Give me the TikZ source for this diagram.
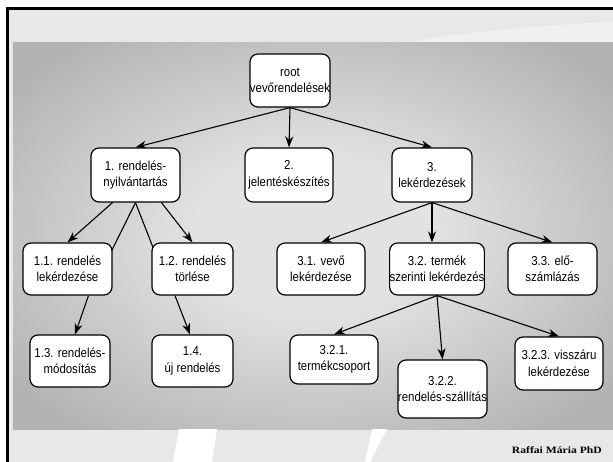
\documentclass[tikz,border=0pt]{standalone}
\usepackage{fontspec}
\setmainfont{Liberation Sans}[FakeStretch=0.88]
\newfontfamily\footfont{Liberation Serif}[FakeStretch=1.2]
\usetikzlibrary{arrows.meta}
\definecolor{bandgray}{RGB}{232,232,232}
\definecolor{paneldark}{RGB}{178,178,178}
\definecolor{panellight}{RGB}{226,226,226}
\pgfdeclarelayer{back}
\pgfdeclarelayer{edges}
\pgfsetlayers{back,edges,main}
\pgfdeclareradialshading{panelshade}{\pgfpointorigin}{color(0bp)=(panellight); color(10bp)=(panellight); color(32bp)=(paneldark); color(50bp)=(paneldark)}
\begin{document}
\begin{tikzpicture}[x=1pt,y=-1pt,
  box/.style 2 args={draw, fill=white, rounded corners=8pt, line width=1.2pt, align=center,
    inner sep=0pt, minimum width=#1pt, minimum height=#2pt, font=\fontsize{13}{16.5}\selectfont},
  conn/.style={line width=1.1pt, -{Stealth[length=11pt,width=8pt,inset=3.5pt]}},
  plainline/.style={line width=1.1pt},
  footer/.style={font=\footfont\bfseries\fontsize{9.7}{12}\selectfont, inner sep=0pt}]
\useasboundingbox (0,0) rectangle (613,462);

\begin{pgfonlayer}{back}
  \fill[white] (0,0) rectangle (613,462);
  \fill[bandgray] (7.3,8.7) rectangle (613,462);
  \fill[white, opacity=0.35] (400,43) .. controls (480,30) and (560,24) .. (613,22) -- (613,43) -- cycle;
  \shade[shading=panelshade] (13,43) rectangle (613,429);
  \fill[white] (179,429) -- (217,429) -- (212,462) -- (173,462) -- cycle;
  \fill[white] (372,429) -- (387,429) -- (370,462) -- (365,462) -- cycle;
  \draw[line width=2.7pt] (7.3,462) -- (7.3,8.7) -- (613,8.7);
\end{pgfonlayer}

\node[box={80}{53}] (root) at (290,80.5) {root\\vevőrendelések};
\node[box={89}{54}] (n1) at (135.5,175) {1. rendelés-\\nyilvántartás};
\node[box={88}{54}] (n2) at (289,175) {2.\\jelentéskészítés};
\node[box={80}{54}] (n3) at (432,175) {3.\\lekérdezések};
\node[box={89}{52}] (n11) at (67.5,269) {1.1. rendelés\\lekérdezése};
\node[box={81}{52}] (n12) at (192.5,269) {1.2. rendelés\\törlése};
\node[box={88}{52}] (n31) at (321,269) {3.1. vevő\\lekérdezése};
\node[box={94}{52}] (n32) at (437,269) {3.2. termék\\szerinti lekérdezés};
\node[box={89}{52}] (n33) at (552.5,269) {3.3. elő-\\számlázás};
\node[box={80}{52}] (n13) at (70,361) {1.3. rendelés-\\módosítás};
\node[box={81}{52}] (n14) at (192.5,361) {1.4.\\új rendelés};
\node[box={88}{49}] (n321) at (334,359.5) {3.2.1.\\termékcsoport};
\node[box={85}{58}] (n322) at (442.5,389) {3.2.2.\\rendelés-szállítás};
\node[box={88}{53}] (n323) at (559,363.5) {3.2.3. visszáru\\lekérdezése};
\node[footer, anchor=east] (foot) at (602,450) {Raffai Mária PhD};

\begin{pgfonlayer}{edges}
  \draw[conn] (root.south) -- (n1.north);
  \draw[conn] (root.south) -- (n2.north);
  \draw[conn] (root.south) -- (n3.north);
  \draw[conn] ([xshift=-23pt]n1.south) -- (n11.north);
  \draw[plainline] (n1.south) -- ([xshift=-10pt]n11.east);
  \draw[plainline] (n1.south) -- ([xshift=10pt]n12.west);
  \draw[conn] ([xshift=26pt]n1.south) -- (n12.north);
  \draw[conn] ([xshift=21pt]n11.south) -- ([xshift=5pt]n13.north);
  \draw[conn] ([xshift=-17.5pt]n12.south) -- ([xshift=-2.5pt]n14.north);
  \draw[conn] (n3.south) -- (n31.north);
  \draw[conn] (n3.south) -- (n3.south |- n32.north);
  \draw[conn] (n3.south) -- (n33.north);
  \draw[conn] (n32.south) -- (n321.north);
  \draw[conn] (n32.south) -- (n322.north);
  \draw[conn] (n32.south) -- (n323.north);
\end{pgfonlayer}
\end{tikzpicture}
\end{document}
